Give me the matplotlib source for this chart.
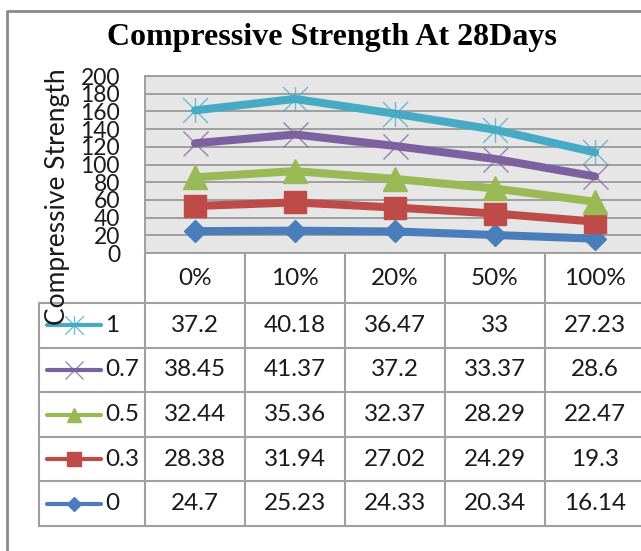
import matplotlib.pyplot as plt
import numpy as np
from matplotlib.path import Path

plt.rcParams['font.family'] = ['Lato', 'DejaVu Sans']

# data: compressive strength at 28 days
categories = ['0%', '10%', '20%', '50%', '100%']
series_names = ['0', '0.3', '0.5', '0.7', '1']
s_0 = [24.7, 25.23, 24.33, 20.34, 16.14]
s_03 = [28.38, 31.94, 27.02, 24.29, 19.3]
s_05 = [32.44, 35.36, 32.37, 28.29, 22.47]
s_07 = [38.45, 41.37, 37.2, 33.37, 28.6]
s_1 = [37.2, 40.18, 36.47, 33, 27.23]
yticks = [0, 20, 40, 60, 80, 100, 120, 140, 160, 180, 200]

values = np.array([s_0, s_03, s_05, s_07, s_1])
stacked = np.cumsum(values, axis=0)

# excel-style asterisk: x plus vertical bar
star = Path([(-0.5, -0.5), (0.5, 0.5), (-0.5, 0.5), (0.5, -0.5), (0, -0.5), (0, 0.5)],
            [Path.MOVETO, Path.LINETO, Path.MOVETO, Path.LINETO, Path.MOVETO, Path.LINETO])

colors = ['#4a7ebb', '#be4b48', '#98b954', '#7d60a0', '#46aac5']
markers = ['D', 's', '^', 'x', star]
msizes = [11, 16, 17, 18, 18]
filled = [True, True, True, False, False]

W, H = 641, 551
fig = plt.figure(figsize=(W / 100, H / 100), dpi=100)

def fbox(x0, y0, x1, y1):
    # pixel box (top-left origin) -> figure fraction rect
    return [x0 / W, 1 - y1 / H, (x1 - x0) / W, (y1 - y0) / H]

# outer chart frame
bg = fig.add_axes([0, 0, 1, 1])
bg.set_xlim(0, W)
bg.set_ylim(H, 0)
bg.axis('off')
bg.plot([7, 7, 700], [600, 11, 11], color='#8a8a8a', lw=2)

# plot area
ax = fig.add_axes(fbox(145, 76, 645, 253))
ax.set_facecolor('#e6e6e6')
ax.set_xlim(0, 5)
ax.set_ylim(0, 200)
ax.set_yticks(yticks)
ax.set_xticks([])
ax.grid(axis='y', color='#9a9a9a', lw=1.3)
ax.set_axisbelow(True)
ax.tick_params(axis='y', length=0, pad=18, labelsize=16.5, labelcolor='#1a1a1a')
for sp in ax.spines.values():
    sp.set_color('#9a9a9a')
    sp.set_linewidth(1.3)

x = np.arange(len(categories)) + 0.5
for i in range(len(series_names)):
    c = colors[i]
    ax.plot(x, stacked[i], color=c, lw=5.8, solid_capstyle='round', zorder=3)
    if filled[i]:
        ax.plot(x, stacked[i], ls='none', marker=markers[i], ms=msizes[i],
                mfc=c, mec=c, mew=1, zorder=4)
    else:
        ax.plot(x, stacked[i], ls='none', marker=markers[i], ms=msizes[i],
                mec=c, mew=1, alpha=0.75, zorder=4)

fig.text(58 / W, 1 - 197 / H, 'Compressive Strength', rotation=90,
         ha='center', va='center', fontsize=19, color='#1a1a1a')

fig.text(332 / W, 1 - 45 / H, 'Compressive Strength At 28Days',
         family='Liberation Serif', weight='bold', fontsize=23,
         ha='center', va='baseline', color='black')

# data table under the plot
hdr = 50 / 44.6
tab = fig.add_axes(fbox(39, 253, 645, 526))
tab.set_xlim(-1.06, 5)
tab.set_ylim(5, -hdr)
tab.axis('off')
tab.patch.set_alpha(0)
lc = '#a0a0a0'
for r in range(6):
    tab.plot([-1.06, 5], [r, r], color=lc, lw=1.5, clip_on=False)
tab.plot([-1.06, -1.06], [0, 5], color=lc, lw=1.5, clip_on=False)
for cidx in range(6):
    tab.plot([cidx, cidx], [-hdr, 5], color=lc, lw=1.5, clip_on=False)

for j, cat in enumerate(categories):
    tab.text(j + 0.5, -hdr / 2, cat, ha='center', va='center', fontsize=17.5, color='#1a1a1a')

order = list(range(len(series_names)))[::-1]
for r, i in enumerate(order):
    yc = r + 0.5
    c = colors[i]
    tab.plot([-0.98, -0.44], [yc, yc], color=c, lw=3, solid_capstyle='round')
    if filled[i]:
        tab.plot([-0.71], [yc], marker=markers[i], ms=msizes[i] * 0.62, mfc=c, mec=c, ls='none')
    else:
        tab.plot([-0.71], [yc], marker=markers[i], ms=msizes[i] * 0.75, mec=c, mew=1,
                 alpha=0.75, ls='none')
    tab.text(-0.40, yc, series_names[i], ha='left', va='center', fontsize=17.5, color='#1a1a1a')
    for j in range(len(categories)):
        tab.text(j + 0.5, yc, f'{values[i][j]:g}', ha='center', va='center',
                 fontsize=17.5, color='#1a1a1a')

fig.savefig('out.png', dpi=100)
